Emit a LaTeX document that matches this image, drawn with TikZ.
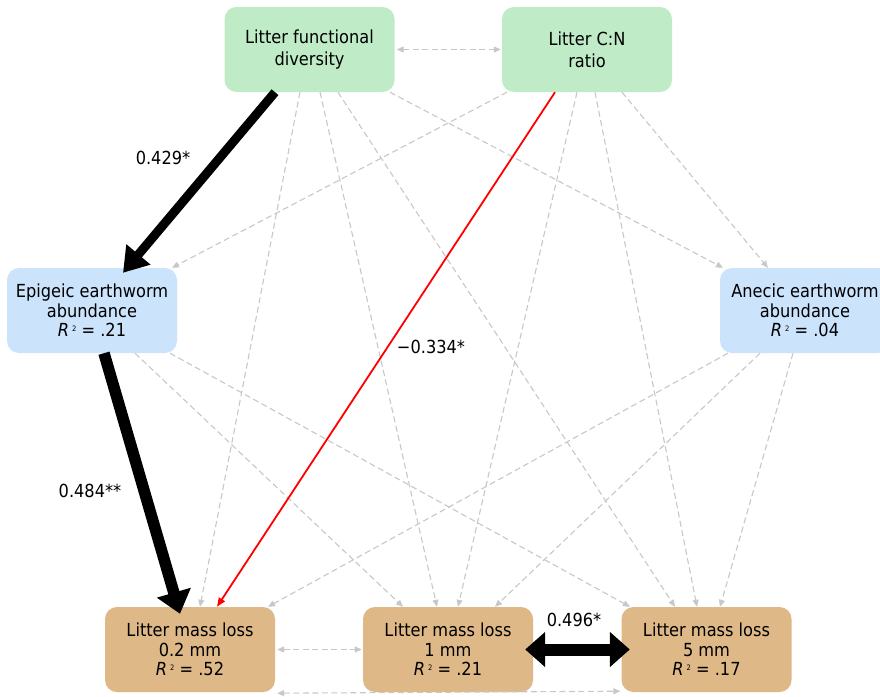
\documentclass[tikz,border=0pt]{standalone}
\usepackage{fontspec}
\setmainfont{DejaVu Sans}[FakeStretch=0.9]
\usetikzlibrary{arrows.meta}
\definecolor{gnode}{RGB}{191,236,199}
\definecolor{bnode}{RGB}{204,227,252}
\definecolor{tnode}{RGB}{222,184,135}
\definecolor{dgray}{RGB}{200,200,200}
\newcommand\Rsqr{\textit{R}\,\raisebox{0.55ex}{\fontsize{7.5}{7.5}\selectfont 2}}
\begin{document}
\begin{tikzpicture}[x=1pt,y=-1pt,
  box/.style={rounded corners=12pt, minimum width=170pt, minimum height=85pt,
    align=center, inner sep=0pt, font=\fontsize{18}{22.3}\selectfont},
  box3/.style={box, font=\fontsize{18}{19.5}\selectfont},
  lab/.style={font=\fontsize{18}{19.5}\selectfont, inner sep=0pt},
  gr/.style={draw=dgray, line width=1.1pt, dash pattern=on 6pt off 3.5pt,
    -{Triangle[length=7pt,width=6pt]}},
  grd/.style={gr, {Triangle[length=7pt,width=6pt]}-{Triangle[length=7pt,width=6pt]}},
  thick1/.style={draw=black, line width=9pt, -{Triangle[length=24pt,width=30pt]}},
  thick2/.style={draw=black, line width=11.5pt, -{Triangle[length=22pt,width=34pt]}},
  thickd/.style={draw=black, line width=12pt,
    {Triangle[length=20pt,width=34pt]}-{Triangle[length=20pt,width=34pt]}},
  redarr/.style={draw=red, line width=1.8pt, -{Triangle[length=9pt,width=7pt]}}
]
\clip (0,0) rectangle (880,696);
\fill[white] (0,0) rectangle (880,696);

% nodes
\node[box, fill=gnode] (lfd) at (309.5,49.5) {Litter functional\\diversity};
\node[box, fill=gnode] (cn) at (587,49.5) {Litter C:N\\ratio};
\node[box3, fill=bnode] (epi) at (92,310.5) {Epigeic earthworm\\abundance\\\Rsqr{} = .21};
\node[box3, fill=bnode] (ane) at (805,310.5) {Anecic earthworm\\abundance\\\Rsqr{} = .04};
\node[box3, fill=tnode] (l02) at (190,649.5) {Litter mass loss\\0.2 mm\\\Rsqr{} = .52};
\node[box3, fill=tnode] (l1) at (448,649.5) {Litter mass loss\\1 mm\\\Rsqr{} = .21};
\node[box3, fill=tnode] (l5) at (706.5,649.5) {Litter mass loss\\5 mm\\\Rsqr{} = .17};

% grey dashed connectors
\draw[grd] ([xshift=2pt]lfd.east) -- ([xshift=-1pt]cn.west);
\draw[gr] ([xshift=-9.5pt]lfd.south) -- ([xshift=10pt]l02.north);
\draw[gr] ([xshift=10.5pt]lfd.south) -- ([xshift=-11pt]l1.north);
\draw[gr] ([xshift=28.5pt]lfd.south) -- ([xshift=-31.5pt]l5.north);
\draw[gr] ([xshift=80.5pt]lfd.south) -- ([xshift=-82pt]ane.north);
\draw[gr] ([xshift=-80pt]cn.south) -- ([xshift=80pt]epi.north);
\draw[gr] ([xshift=-10pt]cn.south) -- ([xshift=10pt]l1.north);
\draw[gr] ([xshift=8pt]cn.south) -- ([xshift=-9.5pt]l5.north);
\draw[gr] ([xshift=35pt]cn.south) -- ([xshift=-37pt]ane.north);
\draw[gr] ([xshift=43pt]epi.south) -- ([xshift=-45pt]l1.north);
\draw[gr] ([xshift=78pt]epi.south) -- ([xshift=-76.5pt]l5.north);
\draw[gr] ([xshift=-77pt]ane.south) -- ([xshift=78pt]l02.north);
\draw[gr] ([xshift=-45pt]ane.south) -- ([xshift=47pt]l1.north);
\draw[gr] ([xshift=-12pt]ane.south) -- ([xshift=13.5pt]l5.north);
\draw[grd] ([xshift=2pt]l02.east) -- ([xshift=-1pt]l1.west);
\draw[grd] ([xshift=2pt,yshift=-1pt]l02.south east) -- ([xshift=-1pt,yshift=1pt]l5.south west);

% significant paths
\draw[redarr] ([xshift=-32pt]cn.south) -- ([xshift=27pt]l02.north);
\draw[thick1] ([xshift=-34.5pt]lfd.south) -- ([xshift=31pt,yshift=-5pt]epi.north);
\draw[thick2] ([xshift=12pt]epi.south) -- ([xshift=-10pt,yshift=-7pt]l02.north);
\draw[thickd] ([xshift=-8pt]l1.east) -- ([xshift=8.5pt]l5.west);

% labels
\node[lab] (la) at (163,158) {0.429*};
\node[lab] (lb) at (90,491) {0.484**};
\node[lab] (lc) at (431,347) {−0.334*};
\node[lab] (ld) at (574,620) {0.496*};
\end{tikzpicture}
\end{document}
